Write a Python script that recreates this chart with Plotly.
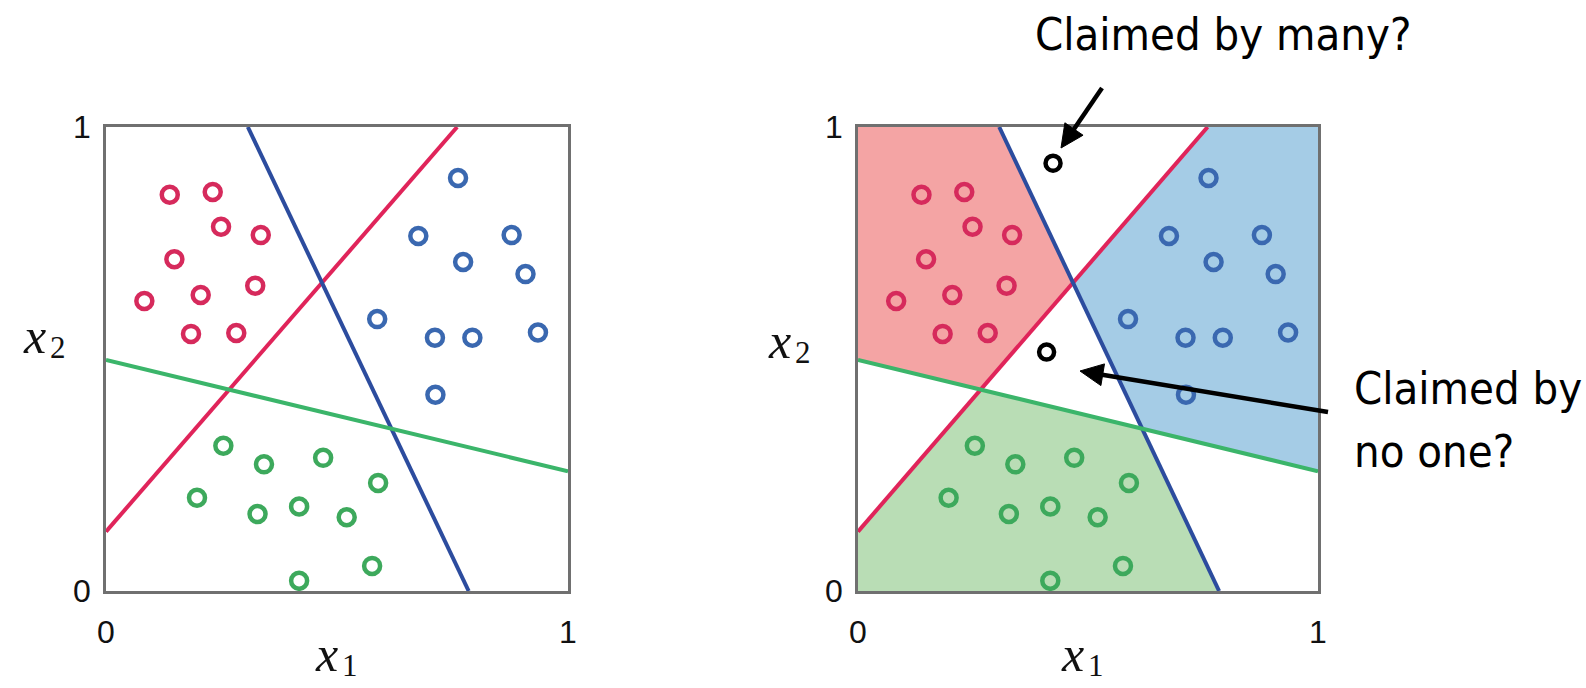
import numpy as np
import plotly.graph_objects as go

W, H = 1586, 688

# ---- data -------------------------------------------------------------
red_x = [0.138, 0.231, 0.249, 0.335, 0.148, 0.323, 0.083, 0.205, 0.184, 0.282]
red_y = [0.854, 0.860, 0.785, 0.767, 0.715, 0.658, 0.625, 0.638, 0.554, 0.556]

blue_x = [0.762, 0.676, 0.878, 0.773, 0.908, 0.587, 0.712, 0.793, 0.935, 0.713]
blue_y = [0.890, 0.765, 0.767, 0.709, 0.683, 0.586, 0.546, 0.546, 0.557, 0.423]

green_x = [0.254, 0.342, 0.470, 0.589, 0.197, 0.328, 0.418, 0.521, 0.576, 0.418]
green_y = [0.313, 0.273, 0.287, 0.233, 0.201, 0.166, 0.182, 0.159, 0.054, 0.022]

# decision boundaries, each given by two end points (x1, x2)
red_line = [(0.0, 0.128), (0.760, 1.0)]
blue_line = [(0.307, 1.0), (0.785, 0.0)]
green_line = [(0.0, 0.498), (1.0, 0.258)]

# ambiguous query points in the right panel
query_x = [0.424, 0.410]
query_y = [0.922, 0.515]

tick_vals = [0, 1]
tick_text = ["0", "1"]

# ---- styling ----------------------------------------------------------
RED_LINE, BLUE_LINE, GREEN_LINE = "#E0245A", "#2C4C9E", "#3BB56A"
RED_PT, BLUE_PT, GREEN_PT = "#D62A5C", "#3A68B0", "#3DA95C"
RED_FILL, BLUE_FILL, GREEN_FILL = "#F4A4A4", "#A5CCE6", "#B9DDB5"


def halfplane(line, sign):
    """Coefficients (a, b, c) so that a*x + b*y + c >= 0 on the chosen side."""
    (x1, y1), (x2, y2) = line
    a, b = (y2 - y1), -(x2 - x1)
    c = -(a * x1 + b * y1)
    return sign * a, sign * b, sign * c


def clip(poly, a, b, c):
    out = []
    n = len(poly)
    for i in range(n):
        p, q = poly[i], poly[(i + 1) % n]
        fp = a * p[0] + b * p[1] + c
        fq = a * q[0] + b * q[1] + c
        if fp >= 0:
            out.append(p)
        if (fp >= 0) != (fq >= 0):
            t = fp / (fp - fq)
            out.append((p[0] + t * (q[0] - p[0]), p[1] + t * (q[1] - p[1])))
    return out


def region(planes):
    poly = [(0, 0), (1, 0), (1, 1), (0, 1)]
    for pl in planes:
        poly = clip(poly, *pl)
    return poly


def side(line, pt):
    a, b, c = halfplane(line, 1)
    return 1 if a * pt[0] + b * pt[1] + c >= 0 else -1


# orient each half-plane by a reference point known to lie in its class
s_red = side(red_line, (0.0, 1.0))
s_blue = side(blue_line, (1.0, 1.0))
s_green = side(green_line, (0.0, 0.0))

red_region = region([halfplane(red_line, s_red), halfplane(blue_line, -s_blue),
                     halfplane(green_line, -s_green)])
blue_region = region([halfplane(blue_line, s_blue), halfplane(red_line, -s_red),
                      halfplane(green_line, -s_green)])
green_region = region([halfplane(green_line, s_green), halfplane(red_line, -s_red),
                       halfplane(blue_line, -s_blue)])

fig = go.Figure()


def add_panel(xa, ya, filled):
    if filled:
        for poly, col in [(red_region, RED_FILL), (blue_region, BLUE_FILL),
                          (green_region, GREEN_FILL)]:
            px_ = [p[0] for p in poly] + [poly[0][0]]
            py_ = [p[1] for p in poly] + [poly[0][1]]
            fig.add_trace(go.Scatter(x=px_, y=py_, mode="lines", fill="toself",
                                     fillcolor=col, line=dict(width=0),
                                     xaxis=xa, yaxis=ya, hoverinfo="skip",
                                     showlegend=False))
    for line, col in [(red_line, RED_LINE), (blue_line, BLUE_LINE),
                      (green_line, GREEN_LINE)]:
        fig.add_trace(go.Scatter(x=[line[0][0], line[1][0]],
                                 y=[line[0][1], line[1][1]], mode="lines",
                                 line=dict(color=col, width=4),
                                 xaxis=xa, yaxis=ya, showlegend=False))
    for xs, ys, col in [(red_x, red_y, RED_PT), (blue_x, blue_y, BLUE_PT),
                        (green_x, green_y, GREEN_PT)]:
        fig.add_trace(go.Scatter(x=xs, y=ys, mode="markers",
                                 marker=dict(symbol="circle-open", size=16,
                                             color=col, line=dict(width=4.5)),
                                 xaxis=xa, yaxis=ya, showlegend=False))
    if filled:
        fig.add_trace(go.Scatter(x=query_x, y=query_y, mode="markers",
                                 marker=dict(symbol="circle-open", size=15,
                                             color="black", line=dict(width=4.5)),
                                 xaxis=xa, yaxis=ya, showlegend=False))


add_panel("x", "y", False)
add_panel("x2", "y2", True)

L_DOM = [106 / W, 568 / W]
R_DOM = [858 / W, 1318 / W]
Y_DOM = [1 - 591 / H, 1 - 127 / H]

tick_font = dict(family="Liberation Sans, Arial, sans-serif", size=32, color="#111")
ax_common = dict(range=[0, 1], showgrid=False, zeroline=False, showline=True,
                 mirror=True, linecolor="#707070", linewidth=2.5, ticks="",
                 tickvals=tick_vals, ticktext=tick_text, tickfont=tick_font,
                 fixedrange=True, automargin=False)

fig.update_layout(
    template="none",
    width=W, height=H, margin=dict(l=0, r=0, t=0, b=0, pad=0),
    paper_bgcolor="white", plot_bgcolor="white",
    xaxis=dict(domain=L_DOM, anchor="y", ticklabelstandoff=11, **ax_common),
    yaxis=dict(domain=Y_DOM, anchor="x", ticklabelstandoff=6, **ax_common),
    xaxis2=dict(domain=R_DOM, anchor="y2", ticklabelstandoff=11, **ax_common),
    yaxis2=dict(domain=Y_DOM, anchor="x2", ticklabelstandoff=6, **ax_common),
)


def px(x):
    return x / W


def py(y):
    return 1 - y / H


# axis labels: italic variable with an upright subscript index
var_font = dict(family="Liberation Serif, DejaVu Serif, serif", size=50,
                color="#111", style="italic")
idx_font = dict(family="Liberation Serif, DejaVu Serif, serif", size=31,
                color="#111")


def axis_label(x_center, y_center, index):
    fig.add_annotation(x=px(x_center), y=py(y_center), xref="paper", yref="paper",
                       text="x", showarrow=False, font=var_font,
                       xanchor="center", yanchor="middle")
    fig.add_annotation(x=px(x_center + 14), y=py(y_center + 11), xref="paper",
                       yref="paper", text=index, showarrow=False, font=idx_font,
                       xanchor="left", yanchor="middle")


axis_label(326, 654, "1")
axis_label(1072, 654, "1")
axis_label(34, 336, "2")
axis_label(779, 341, "2")

# callout texts
note_font = dict(family="DejaVu Sans Condensed, DejaVu Sans, sans-serif",
                 size=45, color="black")
fig.add_annotation(x=px(1033), y=py(35), xref="paper", yref="paper",
                   text="Claimed by many?", showarrow=False, font=note_font,
                   xanchor="left", yanchor="middle")
fig.add_annotation(x=px(1352), y=py(388), xref="paper", yref="paper",
                   text="Claimed by", showarrow=False, font=note_font,
                   xanchor="left", yanchor="middle")
fig.add_annotation(x=px(1352), y=py(452), xref="paper", yref="paper",
                   text="no one?", showarrow=False, font=note_font,
                   xanchor="left", yanchor="middle")


def arrow(tail, tip, head_len=23, half_w=11, width=4.5):
    t = np.array(tail, float)
    h = np.array(tip, float)
    d = (h - t) / np.linalg.norm(h - t)
    n = np.array([-d[1], d[0]])
    base = h - d * head_len
    fig.add_shape(type="line", xref="paper", yref="paper",
                  x0=px(t[0]), y0=py(t[1]), x1=px(base[0] + d[0] * 2),
                  y1=py(base[1] + d[1] * 2),
                  line=dict(color="black", width=width))
    p1, p2 = base + n * half_w, base - n * half_w
    path = (f"M {px(h[0])},{py(h[1])} L {px(p1[0])},{py(p1[1])} "
            f"L {px(p2[0])},{py(p2[1])} Z")
    fig.add_shape(type="path", xref="paper", yref="paper", path=path,
                  fillcolor="black", line=dict(color="black", width=1))


arrow((1102, 88), (1061, 148))
arrow((1328, 412), (1080, 371))

fig.write_html("out.html")
